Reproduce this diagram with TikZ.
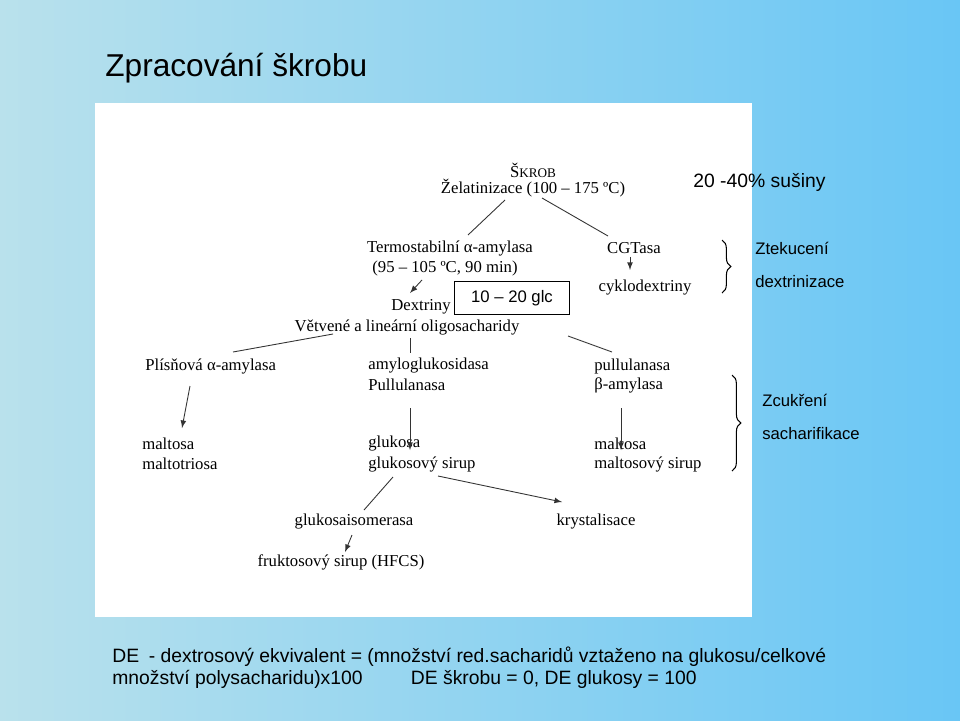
\documentclass[tikz,border=0pt]{standalone}
\usepackage{fontspec}
\setmainfont{Liberation Serif}
\newfontfamily\arialfont{Liberation Sans}
\usetikzlibrary{positioning, decorations.pathreplacing}
\definecolor{bgleft}{RGB}{185,225,236}
\definecolor{bgright}{RGB}{105,198,245}
\begin{document}
\begin{tikzpicture}[x=0.02cm, y=-0.02cm]
        % Define styles
        \tikzset{
            txt/.style={font=\fontsize{9.5}{11}\selectfont, inner sep=0pt, anchor=west},
            side/.style={font=\arialfont\fontsize{9.5}{11}\selectfont, inner sep=0pt, anchor=west},
            link/.style={draw=black!80, line width=0.5pt},
            flow/.style={link, -latex},
            brace/.style={decorate, decoration={brace, amplitude=5pt}, line width=0.6pt}
        }
        % Background and panel
        \shade[left color=bgleft, right color=bgright] (0,0) rectangle (960,720);
        \fill[white] (95,103) rectangle (752,617);
        % Title
        \node[side, font=\arialfont\fontsize{18}{20}\selectfont] (title) at (105,68) {Zpracování škrobu};
        % Starch and liquefaction
        \node[txt, anchor=center] (skrob) at (533,170) {Š{\fontsize{7.5}{9}\selectfont KROB}};
        \node[txt, anchor=center] (zelat) at (533,188) {Želatinizace (100 – 175 ºC)};
        \node[txt, anchor=center] (termo) at (450,248) {Termostabilní α-amylasa};
        \node[txt, anchor=center] (termot) at (445,268) {(95 – 105 ºC, 90 min)};
        \node[txt, anchor=center] (dextr) at (421,307) {Dextriny};
        \node[side, draw, line width=0.8pt, minimum width=115\pgflinewidth, inner xsep=8pt, inner ysep=5pt, anchor=center, minimum width=2.3cm] (glc) at (512,298) {10 – 20 glc};
        \node[txt, anchor=center] (vetv) at (407,327) {Větvené a lineární oligosacharidy};
        \node[txt, anchor=center] (cgt) at (634,248) {CGTasa};
        \node[txt, anchor=center] (cyklo) at (645,288) {cyklodextriny};
        \coordinate (t1) at (422,280);
        \coordinate (t2) at (410,293);
        \draw[link] (505,200) -- (468,235);
        \draw[link] (542,198) -- (608,236);
        \draw[flow] (t1) -- (t2);
        \draw[flow] (cgt.south) ++(-4,3) coordinate (c1) -- ++(0,13);
        % Saccharification
        \node[txt] (plis) at (145,366) {Plísňová α-amylasa};
        \node[txt] (amylo) at (368,366) {amyloglukosidasa};
        \node[txt] (pull) at (368,385) {Pullulanasa};
        \node[txt] (pullr) at (594,366) {pullulanasa};
        \node[txt] (beta) at (594,385) {β-amylasa};
        \node[txt] (malt) at (142,444) {maltosa};
        \node[txt] (maltt) at (142,464) {maltotriosa};
        \node[txt] (gluk) at (368,444) {glukosa};
        \node[txt] (gluks) at (368,464) {glukosový sirup};
        \node[txt] (maltr) at (594,444) {maltosa};
        \node[txt] (malts) at (594,464) {maltosový sirup};
        \draw[link] (333,334) -- (233,352);
        \draw[link] (410,338) -- (410,353);
        \draw[link] (568,336) -- (612,352);
        \draw[flow] (190,386) -- (182,428);
        \draw[flow] (410,408) -- (410,450) coordinate (g1);
        \draw[flow] (621,408) -- (621,450);
        % Further processing
        \node[txt, anchor=center] (iso) at (354,522) {glukosaisomerasa};
        \node[txt, anchor=center] (kryst) at (596,522) {krystalisace};
        \node[txt, anchor=center] (hfcs) at (341,562) {fruktosový sirup (HFCS)};
        \draw[link] (393,477) -- (364,510);
        \draw[flow] (438,476) -- (562,502);
        \draw[flow] (352,535) -- (345,552);
        % Side notes
        \node[side, font=\arialfont\fontsize{11}{13}\selectfont] (susiny) at (693,182) {20 -40\% sušiny};
        \draw[brace] (722,240) -- (722,293);
        \node[side] (ztek) at (755,248) {Ztekucení};
        \node[side] (dext) at (755,282) {dextrinizace};
        \draw[brace] (732,375) -- (732,471);
        \node[side] (zcuk) at (762,400) {Zcukření};
        \node[side] (sach) at (762,434) {sacharifikace};
        % Footnote
        \node[side, font=\arialfont\fontsize{11}{13}\selectfont] (de1) at (112,657) {DE\enspace - dextrosový ekvivalent = (množství red.sacharidů vztaženo na glukosu/celkové};
        \node[side, font=\arialfont\fontsize{11}{13}\selectfont] (de2) at (112,679) {množství polysacharidu)x100\qquad\enspace DE škrobu = 0, DE glukosy = 100};
    \end{tikzpicture}
\end{document}
